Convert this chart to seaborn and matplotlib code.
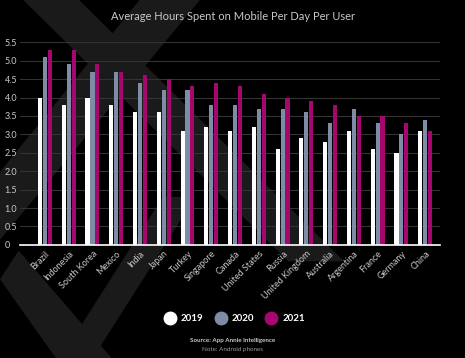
import numpy as np
import pandas as pd
import matplotlib.pyplot as plt
import seaborn as sns
from matplotlib.patches import Polygon
from matplotlib.lines import Line2D

# Data
countries = ["Brazil", "Indonesia", "South Korea", "Mexico", "India", "Japan", "Turkey",
             "Singapore", "Canada", "United States", "Russia", "United Kingdom",
             "Australia", "Argentina", "France", "Germany", "China"]
hours_2019 = [4.0, 3.8, 4.0, 3.8, 3.6, 3.6, 3.1, 3.2, 3.1, 3.2, 2.6, 2.9, 2.8, 3.1, 2.6, 2.5, 3.1]
hours_2020 = [5.1, 4.9, 4.7, 4.7, 4.4, 4.2, 4.2, 3.8, 3.8, 3.7, 3.7, 3.6, 3.3, 3.7, 3.3, 3.0, 3.4]
hours_2021 = [5.3, 5.3, 4.9, 4.7, 4.6, 4.5, 4.3, 4.4, 4.3, 4.1, 4.0, 3.9, 3.8, 3.5, 3.5, 3.3, 3.1]
years = ["2019", "2020", "2021"]
y_ticks = [0, 0.5, 1.0, 1.5, 2.0, 2.5, 3.0, 3.5, 4.0, 4.5, 5.0, 5.5]
y_labels = ["0", "0.5", "1.0", "1.5", "2.0", "2.5", "3.0", "3.5", "4.0", "4.5", "5.0", "5.5"]

colors = ["#ffffff", "#7e8ca6", "#a5076f"]
text_col = "#c8c8c8"

df = pd.DataFrame({
    "country": countries * 3,
    "year": [y for y in years for _ in countries],
    "hours": hours_2019 + hours_2020 + hours_2021,
})

sns.set_theme(style="dark")
plt.rcParams["font.family"] = ["Lato", "DejaVu Sans"]

fig = plt.figure(figsize=(4.65, 3.58), dpi=100)
fig.patch.set_facecolor("black")

# decorative background bands (behind everything)
bg_ax = fig.add_axes([0, 0, 1, 1], zorder=-10)
bg_ax.set_xlim(0, 1)
bg_ax.set_ylim(0, 1)
bg_ax.axis("off")
bg = "#1a1a1a"
bands = [
    [(0.05, 1.0), (0.17, 1.0), (0.74, 0.27), (0.62, 0.27)],
    [(0.30, 1.0), (0.43, 1.0), (0.0, 0.33), (0.0, 0.52)],
    [(0.0, 0.22), (0.12, 0.0), (0.24, 0.0), (0.04, 0.30)],
    [(0.13, 0.0), (0.20, 0.0), (0.42, 0.45), (0.35, 0.45)],
]
for b in bands:
    bg_ax.add_patch(Polygon(b, closed=True, facecolor=bg, edgecolor="none"))

ax = fig.add_axes([0.043, 0.316, 0.903, 0.566], zorder=1)
ax.set_facecolor("none")

sns.barplot(data=df, x="country", y="hours", hue="year", palette=colors,
            width=0.62, gap=0.16, ax=ax, legend=False, saturation=1,
            linewidth=0, zorder=3)

ax.set_xlim(-1.05, 16.62)
ax.set_ylim(0, 5.5)
ax.set_yticks(y_ticks)
ax.set_yticklabels(y_labels)
ax.grid(axis="y", color="#333333", linewidth=0.8, zorder=0)
ax.grid(axis="x", visible=False)
for s in ["top", "right", "left"]:
    ax.spines[s].set_visible(False)
ax.spines["bottom"].set_color("white")
ax.spines["bottom"].set_linewidth(1.2)
ax.spines["bottom"].set_zorder(5)

ax.tick_params(axis="y", length=0, labelsize=6.5, labelcolor=text_col, pad=11)
for lab in ax.get_yticklabels():
    lab.set_horizontalalignment("left")

ax.tick_params(axis="x", which="major", length=0, labelsize=6.5, labelcolor=text_col, pad=3)
ax.set_xticks(np.arange(-0.5, len(countries), 1), minor=True)
ax.tick_params(axis="x", which="minor", length=3.5, width=0.8, color="white", direction="out")
for lab in ax.get_xticklabels():
    lab.set_rotation(45)
    lab.set_horizontalalignment("right")
    lab.set_rotation_mode("anchor")
ax.set_xlabel("")
ax.set_ylabel("")

fig.text(0.5, 0.955, "Average Hours Spent on Mobile Per Day Per User",
         ha="center", va="center", color=text_col, fontsize=8)

handles = [Line2D([], [], marker="o", linestyle="none", markersize=9,
                  markerfacecolor=c, markeredgecolor=c) for c in colors]
leg = fig.legend(handles, years, loc="center", bbox_to_anchor=(0.5, 0.11),
                 ncol=3, frameon=False, handletextpad=0.1, columnspacing=0.8,
                 prop={"size": 7, "weight": "bold"})
for t in leg.get_texts():
    t.set_color("white")

fig.text(0.5, 0.05, "Source: App Annie Intelligence", ha="center", va="center",
         color=text_col, fontsize=4.5, fontweight="bold")
fig.text(0.5, 0.025, "Note: Android phones", ha="center", va="center",
         color="#9a9a9a", fontsize=4.5)

fig.savefig("out.png", dpi=100, facecolor="black")
